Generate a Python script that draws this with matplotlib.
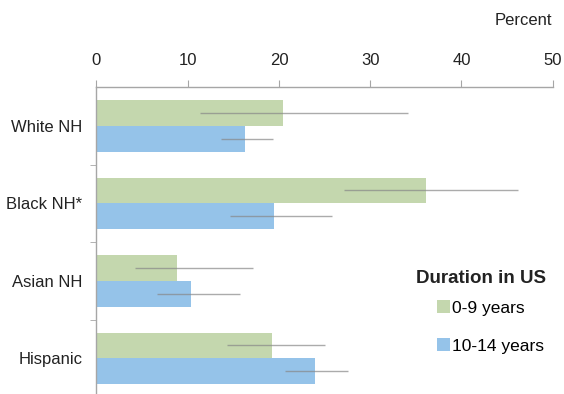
import matplotlib.pyplot as plt
import numpy as np

plt.rcParams['font.family'] = ['Liberation Sans', 'DejaVu Sans']

groups = ["White NH", "Black NH*", "Asian NH", "Hispanic"]
series = ["0-9 years", "10-14 years"]
short_stay = [20.4, 36.1, 8.8, 19.2]
short_lo = [11.3, 27.1, 4.2, 14.3]
short_hi = [34.1, 46.2, 17.2, 25.1]
long_stay = [16.3, 19.5, 10.4, 24.0]
long_lo = [13.6, 14.6, 6.6, 20.7]
long_hi = [19.3, 25.8, 15.7, 27.6]

green = "#c4d7ae"
blue = "#95c3e9"
grey = "#a6a6a6"

fig = plt.figure(figsize=(5.64, 3.94), dpi=100)
ax = fig.add_axes([0.171, -0.008, 0.809, 0.787])

y = np.arange(len(groups))
h = 1 / 3
for vals, lo, hi, col, off, lab in [
    (short_stay, short_lo, short_hi, green, -h / 2, series[0]),
    (long_stay, long_lo, long_hi, blue, h / 2, series[1]),
]:
    ax.barh(y + off, vals, height=h, color=col, label=lab, zorder=2)
    ax.hlines(y + off, lo, hi, color="#888888", lw=1.0, alpha=0.7, zorder=3)

ax.set_xlim(0, 50)
ax.set_ylim(len(groups) - 0.5, -0.5)
ax.set_xticks(np.arange(0, 51, 10))
ax.xaxis.tick_top()
ax.tick_params(axis="x", direction="out", length=5, color=grey, pad=9,
               labelsize=12, labelcolor="#222222")
ax.set_yticks(y)
ax.set_yticklabels(groups)
ax.tick_params(axis="y", length=0, pad=10, labelsize=12, labelcolor="#222222")
ax.set_yticks(np.arange(0.5, len(groups) - 0.5), minor=True)
ax.tick_params(axis="y", which="minor", length=4, color=grey)

for s in ["right", "bottom"]:
    ax.spines[s].set_visible(False)
for s in ["top", "left"]:
    ax.spines[s].set_color(grey)
    ax.spines[s].set_linewidth(1.0)

fig.text(0.979, 0.948, "Percent", ha="right", va="center", fontsize=12,
         color="#222222")

# legend title sits left of the entries, so draw it separately
fig.text(0.738, 0.294, "Duration in US", ha="left", va="center",
         fontsize=13.5, fontweight="bold", color="#222222")
ax.legend(loc="upper left", bbox_to_anchor=(0.746, 0.312),
          frameon=False, fontsize=12.5, handlelength=0.75,
          handleheight=0.75, handletextpad=0.15, labelspacing=1.3,
          borderaxespad=0, borderpad=0)

fig.savefig("out.png", dpi=100)
